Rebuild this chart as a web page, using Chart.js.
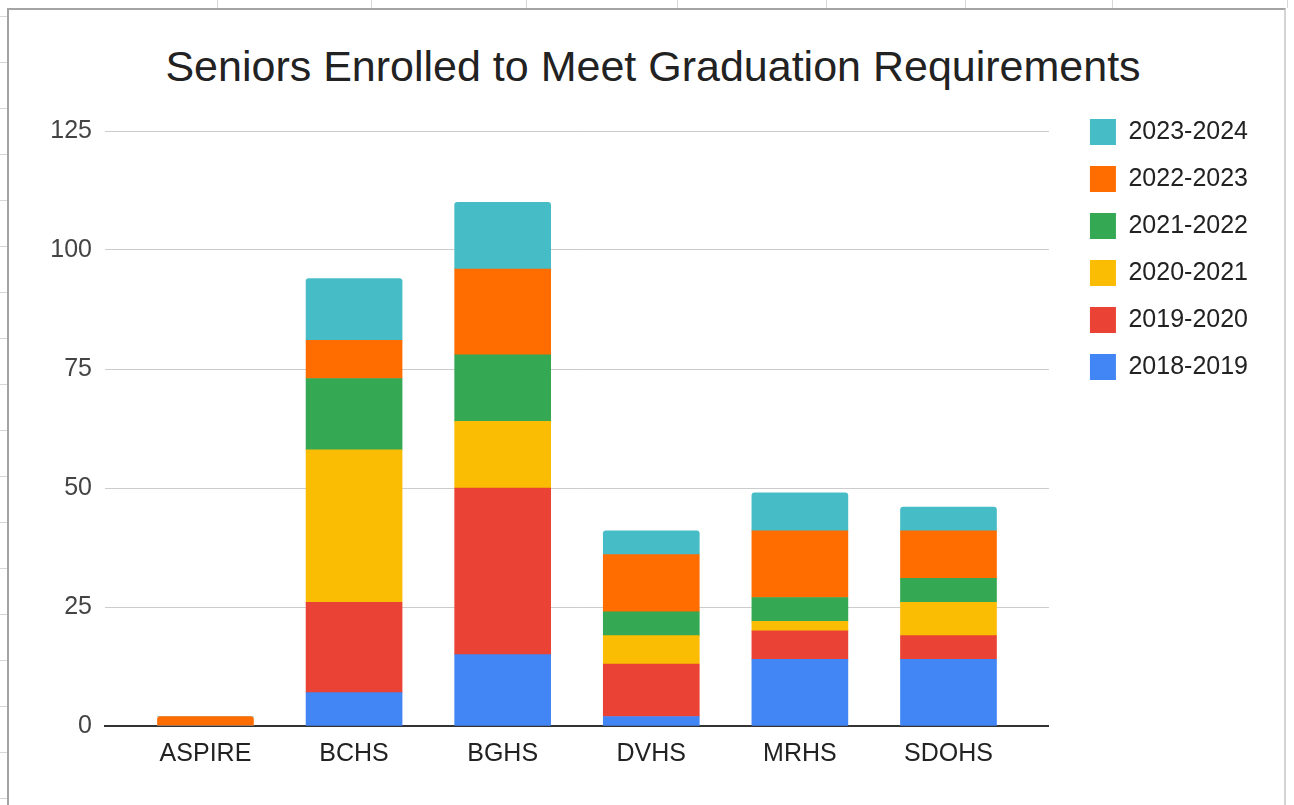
<!DOCTYPE html>
<html>
<head>
<meta charset="utf-8">
<title>Seniors Enrolled to Meet Graduation Requirements</title>
<script src="https://cdn.jsdelivr.net/npm/chart.js@4.4.1/dist/chart.umd.min.js"></script>
<style>
    html, body { margin: 0; padding: 0; background: #fff; }
    body { width: 1294px; height: 805px; position: relative; overflow: hidden; font-family: "Liberation Sans", Arial, sans-serif; }
    #frame { position: absolute; left: 7px; top: 8px; width: 1279px; height: 820px; border-left: 2px solid #a4a4a4; border-top: 2px solid #a4a4a4; border-right: 2px solid #d4d4d4; box-sizing: border-box; }
    .col { position: absolute; top: 0; width: 1px; height: 8px; background: #d6d6d6; }
    .row { position: absolute; left: 0; width: 7px; height: 1px; background: #d6d6d6; }
    #title { position: absolute; left: 6px; width: 1294px; top: 41px; text-align: center; font-size: 43px; color: #222; line-height: 50px; }
    #myChart { position: absolute; left: 0; top: 0; }
</style>
</head>
<body>
<div id="sheet"></div>
<div id="frame"></div>
<div id="title">Seniors Enrolled to Meet Graduation Requirements</div>
<canvas id="myChart" width="1294" height="805"></canvas>
<script>
    var schools = ["ASPIRE", "BCHS", "BGHS", "DVHS", "MRHS", "SDOHS"];
    var years = ["2018-2019", "2019-2020", "2020-2021", "2021-2022", "2022-2023", "2023-2024"];
    var colors = ["#4285F4", "#EA4335", "#FBBC04", "#34A853", "#FF6D01", "#46BDC6"];

    var y2018 = [0, 7, 15, 2, 14, 14];
    var y2019 = [0, 19, 35, 11, 6, 5];
    var y2020 = [0, 32, 14, 6, 2, 7];
    var y2021 = [0, 15, 14, 5, 5, 5];
    var y2022 = [2, 8, 18, 12, 14, 10];
    var y2023 = [0, 13, 14, 5, 8, 5];
    var seriesValues = [y2018, y2019, y2020, y2021, y2022, y2023];

    var yTicks = [0, 25, 50, 75, 100, 125];

    // spreadsheet cells behind the chart
    var sheet = document.getElementById("sheet");
    [217, 371, 526, 677, 826, 965, 1112, 1287].forEach(function (x) {
        var d = document.createElement("div");
        d.className = "col";
        d.style.left = x + "px";
        sheet.appendChild(d);
    });
    for (var r = 16; r < 805; r += 46) {
        var d = document.createElement("div");
        d.className = "row";
        d.style.top = r + "px";
        sheet.appendChild(d);
    }

    Chart.defaults.font.family = '"Liberation Sans", Arial, sans-serif';
    Chart.defaults.font.size = 25;

    var datasets = years.map(function (label, i) {
        return {
            label: label,
            data: seriesValues[i].map(function (v, j) { return { x: j, y: v }; }),
            backgroundColor: colors[i],
            borderWidth: 0,
            borderRadius: 3,
            barThickness: 96
        };
    });

    var ctx = document.getElementById("myChart");
    var chart = new Chart(ctx, {
        type: "bar",
        data: { datasets: datasets },
        options: {
            responsive: false,
            animation: false,
            layout: { padding: { top: 98, right: 36, bottom: 29, left: 0 } },
            plugins: {
                title: { display: false },
                tooltip: { enabled: false },
                legend: {
                    position: "right",
                    align: "start",
                    reverse: true,
                    labels: {
                        boxWidth: 26,
                        boxHeight: 26,
                        padding: 21,
                        color: "#222",
                        font: { size: 25 }
                    }
                }
            },
            scales: {
                x: {
                    type: "linear",
                    stacked: true,
                    offset: false,
                    bounds: "data",
                    min: -0.676,
                    max: schools.length - 1 + 0.676,
                    grid: { display: false, offset: false },
                    border: { display: true, color: "#333", width: 2 },
                    afterBuildTicks: function (scale) {
                        scale.ticks = schools.map(function (s, i) { return { value: i }; });
                    },
                    afterFit: function (scale) { scale.height = 50; },
                    ticks: {
                        autoSkip: false,
                        maxRotation: 0,
                        padding: 5,
                        color: "#222",
                        callback: function (value) { return schools[value]; }
                    }
                },
                xSpace: {
                    type: "linear",
                    position: "top",
                    grid: { display: false },
                    border: { display: false },
                    ticks: { display: false },
                    afterFit: function (scale) { scale.height = 33; }
                },
                y: {
                    stacked: true,
                    min: yTicks[0],
                    max: yTicks[yTicks.length - 1],
                    grid: { color: "#cccccc", lineWidth: 1, drawTicks: false },
                    border: { display: false },
                    afterBuildTicks: function (scale) {
                        scale.ticks = yTicks.map(function (v) { return { value: v }; });
                    },
                    afterFit: function (scale) { scale.width = 105; },
                    ticks: { padding: 13, color: "#444" }
                },
                ySpace: {
                    type: "linear",
                    position: "right",
                    grid: { display: false },
                    border: { display: false },
                    ticks: { display: false },
                    afterFit: function (scale) { scale.width = 20; }
                }
            }
        }
    });
</script>
</body>
</html>
